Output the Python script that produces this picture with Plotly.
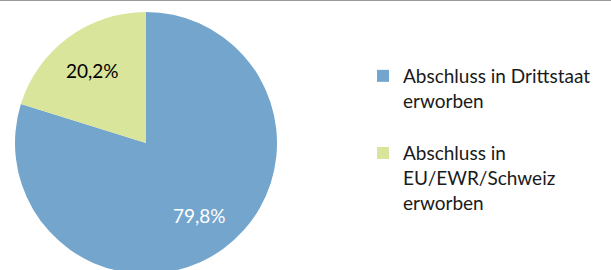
import math
import plotly.graph_objects as go

labels = ["Abschluss in Drittstaat<br>erworben<br> ", "Abschluss in<br>EU/EWR/Schweiz<br>erworben"]
values = [79.8, 20.2]
value_text = ["79,8%", "20,2%"]
colors = ["#73A5CD", "#D9E59B"]
text_colors = ["#FFFFFF", "#000000"]

W, H = 611, 274
CX, CY, R = 146, 143, 131  # pie centre / radius in pixels (layout geometry)

fig = go.Figure(go.Pie(
    labels=labels,
    values=values,
    sort=False,
    direction="clockwise",
    rotation=0,
    marker=dict(colors=colors, line=dict(width=0)),
    textinfo="none",
    hoverinfo="label+percent",
    domain=dict(x=[(CX - R) / W, (CX + R) / W], y=[(H - CY - R) / H, (H - CY + R) / H]),
))

# percentage labels placed at each slice's mid-angle
total = sum(values)
cum = 0.0
annotations = []
for v, t, c in zip(values, value_text, text_colors):
    mid = 90 - 360 * (cum + v / 2) / total
    cum += v
    rr = R * 0.69
    x = (CX + rr * math.cos(math.radians(mid))) / W
    y = (H - CY + rr * math.sin(math.radians(mid))) / H
    annotations.append(dict(x=x, y=y, xref="paper", yref="paper", text=t, showarrow=False,
                            xanchor="center", yanchor="middle",
                            font=dict(family="Lato", size=19, color=c)))

fig.update_layout(
    width=W, height=H,
    margin=dict(l=0, r=0, t=0, b=0),
    paper_bgcolor="white",
    separators=", ",
    showlegend=True,
    legend=dict(
        x=363 / W, y=1 - 57 / H, xanchor="left", yanchor="top",
        font=dict(family="Lato", size=19, color="#1a1a1a"),
        valign="top",
        itemclick=False,
    ),
    annotations=annotations,
    shapes=[dict(type="line", xref="paper", yref="paper", x0=0, x1=1, y0=1, y1=1,
                 line=dict(color="#999999", width=2))],
)

fig.write_html("out.html", config={"displayModeBar": False},
               post_script="document.body.style.margin='0px';document.body.style.overflow='hidden';")
